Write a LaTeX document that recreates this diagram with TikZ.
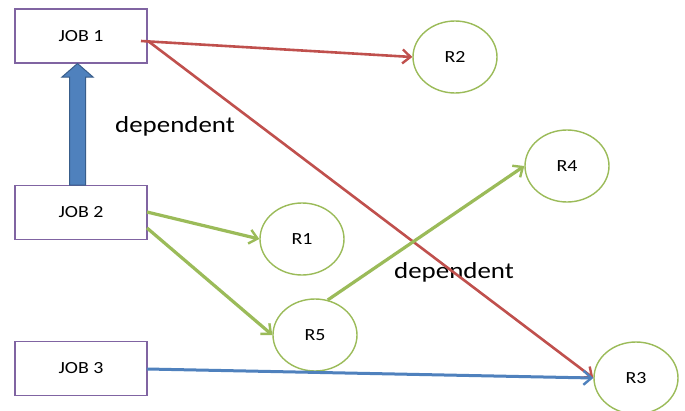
\documentclass[tikz,border=0pt]{standalone}
\usepackage{fontspec}
\setmainfont{Carlito}
\usepackage{graphicx}
\usetikzlibrary{arrows.meta,shapes.geometric}
\definecolor{boxpurple}{HTML}{8064A2}
\definecolor{rgreen}{HTML}{9BBB59}
\definecolor{ored}{HTML}{C0504D}
\definecolor{oblue}{HTML}{4F81BD}
\definecolor{oblueline}{HTML}{385D8A}
\newcommand{\wide}[1]{\scalebox{1.17}[1]{#1}}
\begin{document}
\begin{tikzpicture}[x=1pt,y=-1pt,
  jobbox/.style={draw=boxpurple,line width=1.4pt,minimum width=132pt,minimum height=54pt,inner sep=0pt,font=\fontsize{17}{20}\selectfont},
  resnode/.style={ellipse,draw=rgreen,line width=1.4pt,minimum width=84pt,minimum height=72pt,inner sep=0pt,font=\fontsize{17}{20}\selectfont},
  lbl/.style={anchor=base west,inner sep=0pt,font=\fontsize{23}{26}\selectfont},
  barb/.style={-{Straight Barb[length=8pt,width=14pt,line width=2.4pt]}},
  redarrow/.style={barb,draw=ored,line width=2.6pt},
  greenarrow/.style={barb,draw=rgreen,line width=3.2pt},
  bluearrow/.style={barb,draw=oblue,line width=3pt}]
\useasboundingbox (0,0) rectangle (685,410);
\clip (0,0) rectangle (685,410);
\fill[white] (0,0) rectangle (685,410);

\node[jobbox] (J1) at (81,36) {\wide{JOB 1}};
\node[jobbox] (J2) at (81,212.5) {\wide{JOB 2}};
\node[jobbox] (J3) at (81,368.5) {\wide{JOB 3}};

\node[resnode] (R2) at (455,57) {\wide{R2}};
\node[resnode] (R4) at (567,166) {\wide{R4}};
\node[resnode] (R1) at (302,239) {\wide{R1}};
\node[resnode] (R5) at (315,335) {\wide{R5}};
\node[resnode] (R3) at (636,378) {\wide{R3}};

% block arrow JOB2 -> JOB1
\filldraw[fill=oblue,draw=oblueline,line width=1pt]
  (69.5,185) -- (69.5,77) -- (62,77) -- (77.5,63.5) -- (93,77) -- (85.5,77) -- (85.5,185) -- cycle;

\node[lbl] (d1) at (115,132) {\wide{dependent}};
\node[lbl] (d2) at (394,278) {\wide{dependent}};

\coordinate (j1a) at (141,41);
\coordinate (j1b) at (148,41);
\coordinate (j2a) at (147,212);
\coordinate (j2b) at (147,228);
\coordinate (j3a) at (147,369);

\draw[redarrow] (j1a) -- (R2.west);
\draw[redarrow] (j1b) -- (R3.west);
\draw[greenarrow] (j2a) -- (R1.west);
\draw[greenarrow] (j2b) -- (R5.west);
\draw[greenarrow] (R5.70) -- (R4.west);
\draw[bluearrow] (j3a) -- (R3.west);
\end{tikzpicture}
\end{document}
